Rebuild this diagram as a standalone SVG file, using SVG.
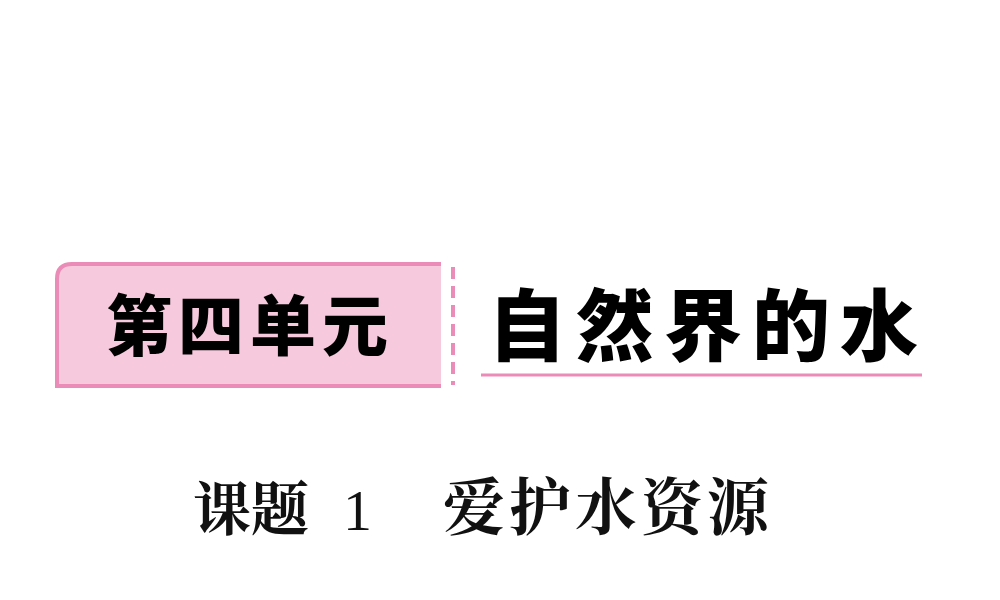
<svg xmlns="http://www.w3.org/2000/svg" width="1000" height="600" viewBox="0 0 1000 600">
<style>
.h{font-family:"Noto Sans CJK SC",sans-serif;font-weight:900;fill:#000}
.s{font-family:"Liberation Serif","Noto Serif CJK SC","Noto Sans CJK SC",serif;font-weight:700;fill:#111}
</style>
<rect width="1000" height="600" fill="#fff"/>
<g id="unit">
<path d="M441,264 H72 Q57,264 57,279 V386 H441 Z" fill="#f6c9dd"/>
<path d="M441,264 H72 Q57,264 57,279 V386 H441" fill="none" stroke="#ea8cb7" stroke-width="4"/>
<text class="h" x="250" y="350" font-size="66" text-anchor="middle" letter-spacing="6">第四单元</text>
</g>
<g id="connectors">
<line x1="453" y1="267" x2="453" y2="385" stroke="#ea8cb7" stroke-width="4" stroke-dasharray="12,7"/>
<line x1="481" y1="375" x2="922" y2="375" stroke="#ea8cb7" stroke-width="3"/>
</g>
<g id="title">
<text class="h" x="708" y="355" font-size="78" text-anchor="middle" letter-spacing="10">自然界的水</text>
</g>
<g id="lesson">
<text class="s" x="193" y="530" font-size="58">课题 <tspan x="343" font-weight="400">1</tspan></text>
<text class="s" x="443" y="530" font-size="62" style="font-family:'Noto Serif CJK SC','Noto Sans CJK SC',serif" letter-spacing="4">爱护水资源</text>
</g>
</svg>
